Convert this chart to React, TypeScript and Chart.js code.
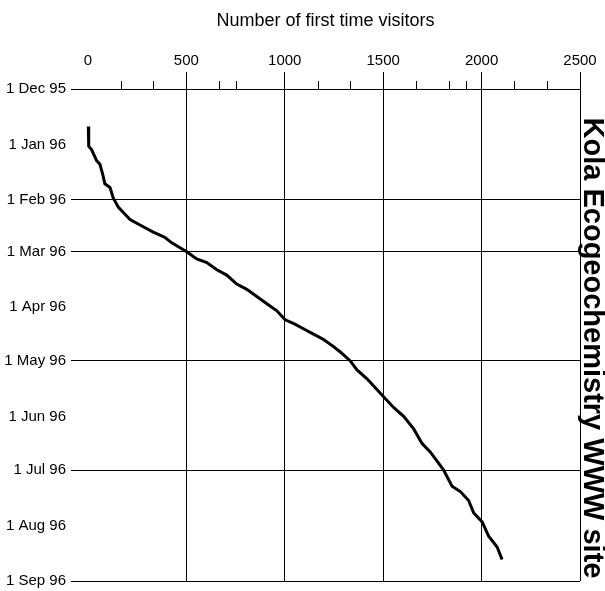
import React, { useEffect, useRef } from "react";
import { Chart, registerables } from "chart.js";

Chart.register(...registerables);

// ---- data ----
const visitDates = [
  "1995-12-22", "1996-01-02", "1996-01-04", "1996-01-10", "1996-01-12", "1996-01-19",
  "1996-01-23", "1996-01-25", "1996-01-31", "1996-02-05", "1996-02-08", "1996-02-12",
  "1996-02-16", "1996-02-19", "1996-02-22", "1996-02-25", "1996-03-01", "1996-03-05",
  "1996-03-07", "1996-03-11", "1996-03-14", "1996-03-19", "1996-03-22", "1996-03-26",
  "1996-03-30", "1996-04-03", "1996-04-08", "1996-04-10", "1996-04-13", "1996-04-16",
  "1996-04-19", "1996-04-23", "1996-04-26", "1996-05-01", "1996-05-06", "1996-05-11",
  "1996-05-16", "1996-05-21", "1996-05-27", "1996-06-01", "1996-06-08", "1996-06-16",
  "1996-06-21", "1996-06-26", "1996-07-01", "1996-07-10", "1996-07-13", "1996-07-18",
  "1996-07-25", "1996-07-30", "1996-08-07", "1996-08-13", "1996-08-20",
];
const visitorCounts = [
  2, 4, 19, 44, 61, 78,
  86, 112, 129, 154, 180, 214,
  281, 332, 392, 426, 502, 553,
  604, 655, 705, 756, 807, 858,
  909, 960, 1002, 1044, 1095, 1146,
  1197, 1248, 1282, 1333, 1367, 1418,
  1460, 1502, 1553, 1604, 1655, 1697,
  1740, 1774, 1807, 1850, 1892, 1934,
  1960, 2003, 2036, 2079, 2104,
];

const monthStarts = [
  "1995-12-01", "1996-01-01", "1996-02-01", "1996-03-01", "1996-04-01",
  "1996-05-01", "1996-06-01", "1996-07-01", "1996-08-01", "1996-09-01",
];
const monthLabels = [
  "1 Dec 95", "1 Jan 96", "1 Feb 96", "1 Mar 96", "1 Apr 96",
  "1 May 96", "1 Jun 96", "1 Jul 96", "1 Aug 96", "1 Sep 96",
];
const monthGridShown = [true, false, true, true, false, true, false, true, false, true];

const xMajorTicks = [0, 500, 1000, 1500, 2000, 2500];
const xMinorTicks = [167, 333, 667, 750, 1167, 1333, 1667, 1833, 1920, 2167, 2333];

const xTitle = "Number of first time visitors";
const sideTitle = "Kola Ecogeochemistry WWW site";

const START = Date.UTC(1995, 11, 1);
const dayOf = (s: string) => {
  const [y, m, d] = s.split("-").map(Number);
  return (Date.UTC(y, m - 1, d) - START) / 86400000;
};

const FONT = "'Liberation Sans', Arial, Helvetica, sans-serif";

const minorTickPlugin = {
  id: "minorTicks",
  afterDraw(chart: any) {
    const xs = chart.scales.x;
    const ctx = chart.ctx;
    ctx.save();
    ctx.strokeStyle = "#000";
    ctx.lineWidth = 1;
    ctx.beginPath();
    for (const v of xMinorTicks) {
      const px = Math.round(xs.getPixelForValue(v)) + 0.5;
      ctx.moveTo(px, xs.bottom - 8);
      ctx.lineTo(px, xs.bottom);
    }
    ctx.stroke();
    ctx.restore();
  },
};

const sideTitlePlugin = {
  id: "sideTitle",
  afterDraw(chart: any) {
    const { ctx, chartArea } = chart;
    ctx.save();
    ctx.translate(chartArea.right + 4, (chartArea.top + chartArea.bottom) / 2 + 13);
    ctx.rotate(Math.PI / 2);
    ctx.font = `bold 29px ${FONT}`;
    ctx.fillStyle = "#000";
    ctx.textAlign = "center";
    ctx.textBaseline = "alphabetic";
    ctx.fillText(sideTitle, 0, 0);
    ctx.restore();
  },
};

export default function App() {
  const ref = useRef<HTMLCanvasElement | null>(null);

  useEffect(() => {
    if (!ref.current) return;
    const points = visitDates.map((d, i) => ({ x: visitorCounts[i], y: dayOf(d) }));
    const monthDays = monthStarts.map(dayOf);

    const chart = new Chart(ref.current, {
      type: "scatter",
      data: {
        datasets: [
          {
            data: points,
            showLine: true,
            borderColor: "#000",
            borderWidth: 3,
            pointRadius: 0,
            tension: 0,
            fill: false,
          },
        ],
      },
      plugins: [minorTickPlugin, sideTitlePlugin],
      options: {
        responsive: false,
        animation: false,
        events: [],
        layout: { padding: { left: 0, right: 25, top: 0, bottom: 10 } },
        plugins: { legend: { display: false }, tooltip: { enabled: false } },
        scales: {
          x: {
            type: "linear",
            position: "top",
            min: -86,
            max: 2500,
            afterBuildTicks: (scale: any) => {
              scale.ticks = xMajorTicks.map((v) => ({ value: v }));
            },
            afterFit: (scale: any) => {
              scale.height = 89;
              scale.paddingLeft = 0;
              scale.paddingRight = 0;
            },
            grid: {
              color: (c: any) => (c.tick && c.tick.value === 0 ? "rgba(0,0,0,0)" : "#000"),
              lineWidth: 1,
              tickLength: 17,
              drawTicks: true,
            },
            border: { display: true, color: "#000", width: 1 },
            ticks: {
              color: "#000",
              font: { family: FONT, size: 15 },
              padding: 2,
              autoSkip: false,
              maxRotation: 0,
              callback: (v: any) => String(v),
            },
            title: {
              display: true,
              text: xTitle,
              color: "#000",
              font: { family: FONT, size: 18 },
              padding: { top: 10, bottom: 0 },
            },
          },
          y: {
            type: "linear",
            position: "left",
            reverse: true,
            min: 0,
            max: 275,
            afterBuildTicks: (scale: any) => {
              scale.ticks = monthDays.map((v) => ({ value: v }));
            },
            afterFit: (scale: any) => {
              scale.width = 71;
              scale.paddingTop = 0;
              scale.paddingBottom = 0;
            },
            grid: {
              color: (c: any) => (monthGridShown[c.index] ? "#000" : "rgba(0,0,0,0)"),
              lineWidth: 1,
              drawTicks: false,
            },
            border: { display: false },
            ticks: {
              color: "#000",
              font: { family: FONT, size: 15 },
              padding: 5,
              autoSkip: false,
              callback: (_v: any, i: number) => monthLabels[i],
            },
          },
        },
      },
    });
    return () => chart.destroy();
  }, []);

  return (
    <div style={{ position: "absolute", left: 0, top: 0, width: 605, height: 591, background: "#fff" }}>
      <canvas ref={ref} width={605} height={591} style={{ display: "block" }} />
    </div>
  );
}
